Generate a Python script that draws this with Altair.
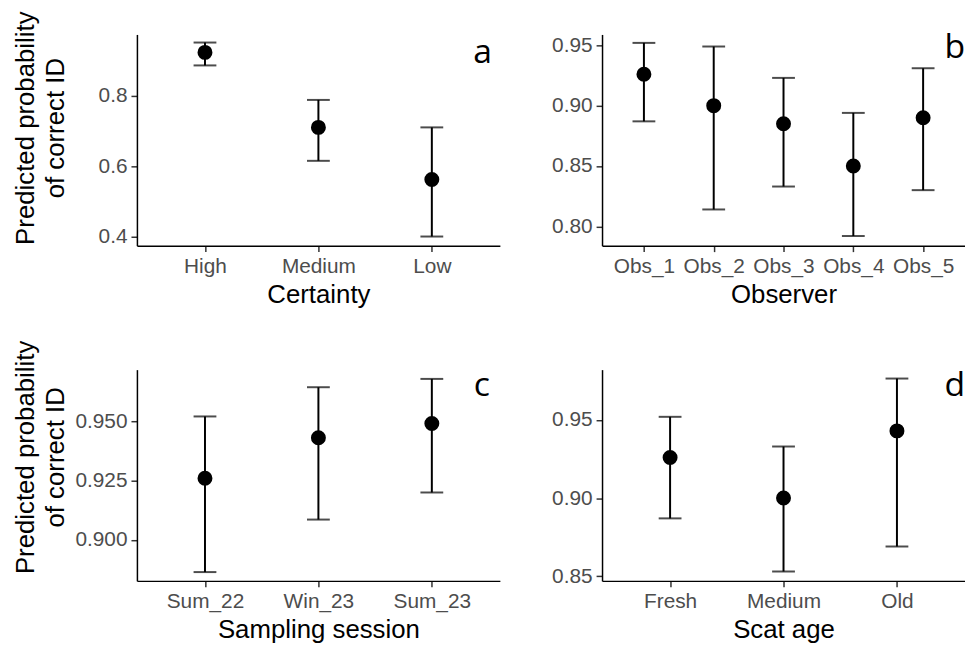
import altair as alt
import pandas as pd

# Panel a: Certainty
cert_cats = ["High", "Medium", "Low"]
cert_est = [0.924, 0.711, 0.563]
cert_lo = [0.887, 0.616, 0.401]
cert_hi = [0.952, 0.789, 0.711]

# Panel b: Observer
obs_cats = ["Obs_1", "Obs_2", "Obs_3", "Obs_4", "Obs_5"]
obs_est = [0.926, 0.900, 0.885, 0.850, 0.890]
obs_lo = [0.887, 0.814, 0.833, 0.792, 0.830]
obs_hi = [0.952, 0.949, 0.923, 0.894, 0.931]

# Panel c: Sampling session
sess_cats = ["Sum_22", "Win_23", "Sum_23"]
sess_est = [0.926, 0.943, 0.949]
sess_lo = [0.8865, 0.9086, 0.920]
sess_hi = [0.952, 0.9643, 0.9678]

# Panel d: Scat age
age_cats = ["Fresh", "Medium", "Old"]
age_est = [0.926, 0.900, 0.943]
age_lo = [0.887, 0.853, 0.869]
age_hi = [0.952, 0.933, 0.9765]

W, H = 366, 213
FONT = "Liberation Sans"
YTITLE = ["Predicted probability", "of correct ID"]


def panel(cats, est, lo, hi, xtitle, ydomain, yticks, yfmt, letter, letter_x, letter_y, ytitle_y):
    df = pd.DataFrame({"cat": cats, "est": est, "lo": lo, "hi": hi})
    x = alt.X("cat:N", sort=cats, title=xtitle,
              scale=alt.Scale(type="point", padding=0.6),
              axis=alt.Axis(labelAngle=0, titlePadding=5, labelPadding=4))
    yaxis_kwargs = dict(values=yticks, format=yfmt, labelPadding=4)
    if ytitle_y is not None:
        yaxis_kwargs.update(titleX=-104, titleY=ytitle_y, titleBaseline="alphabetic",
                            titleLineHeight=30, titleAngle=-90, titleAlign="center")
    y_scale = alt.Scale(domain=ydomain, nice=False, zero=False)
    base = alt.Chart(df)
    rule = base.mark_rule(strokeWidth=2, color="black").encode(
        x=x,
        y=alt.Y("lo:Q", scale=y_scale, title=YTITLE if ytitle_y is not None else None,
                axis=alt.Axis(**yaxis_kwargs)),
        y2="hi:Q",
    )
    cap_lo = base.mark_tick(orient="horizontal", size=23, thickness=2, color="black").encode(
        x=alt.X("cat:N", sort=cats), y=alt.Y("lo:Q"))
    cap_hi = base.mark_tick(orient="horizontal", size=23, thickness=2, color="black").encode(
        x=alt.X("cat:N", sort=cats), y=alt.Y("hi:Q"))
    pts = base.mark_point(filled=True, size=227, color="black", opacity=1).encode(
        x=alt.X("cat:N", sort=cats), y=alt.Y("est:Q"))
    tag = alt.Chart(pd.DataFrame({"t": [letter]})).mark_text(
        font="Open Sans", fontSize=34, align="right", baseline="alphabetic", color="black"
    ).encode(text="t:N", x=alt.value(letter_x), y=alt.value(letter_y))
    return alt.layer(rule, cap_lo, cap_hi, pts, tag).properties(width=W, height=H)


pa = panel(cert_cats, cert_est, cert_lo, cert_hi, "Certainty", [0.375, 0.975],
           [0.4, 0.6, 0.8], ".1f", "a", 358, 29, 94)
pb = panel(obs_cats, obs_est, obs_lo, obs_hi, "Observer", [0.784, 0.959],
           [0.80, 0.85, 0.90, 0.95], ".2f", "b", 366, 24, None)
pc = panel(sess_cats, sess_est, sess_lo, sess_hi, "Sampling session", [0.8828, 0.9717],
           [0.900, 0.925, 0.950], ".3f", "c", 356, 27, 88)
pd_ = panel(age_cats, age_est, age_lo, age_hi, "Scat age", [0.847, 0.9822],
            [0.85, 0.90, 0.95], ".2f", "d", 366, 27, None)

chart = alt.concat(pa, pb, pc, pd_, columns=2, spacing={"row": 125, "column": 103},
                   bounds="flush").properties(
    padding={"left": 4, "top": 0, "right": 0, "bottom": 0}
).configure_view(stroke=None).configure_axis(
    grid=False,
    domainColor="black",
    domainWidth=1.5,
    tickColor="#333333",
    tickWidth=1.5,
    tickSize=6,
    labelColor="#4D4D4D",
    labelFont=FONT,
    labelFontSize=21,
    titleFont=FONT,
    titleFontSize=26,
    titleFontWeight="normal",
    titleColor="black",
)

chart.save("out.html", embed_options={"renderer": "svg", "actions": False})
